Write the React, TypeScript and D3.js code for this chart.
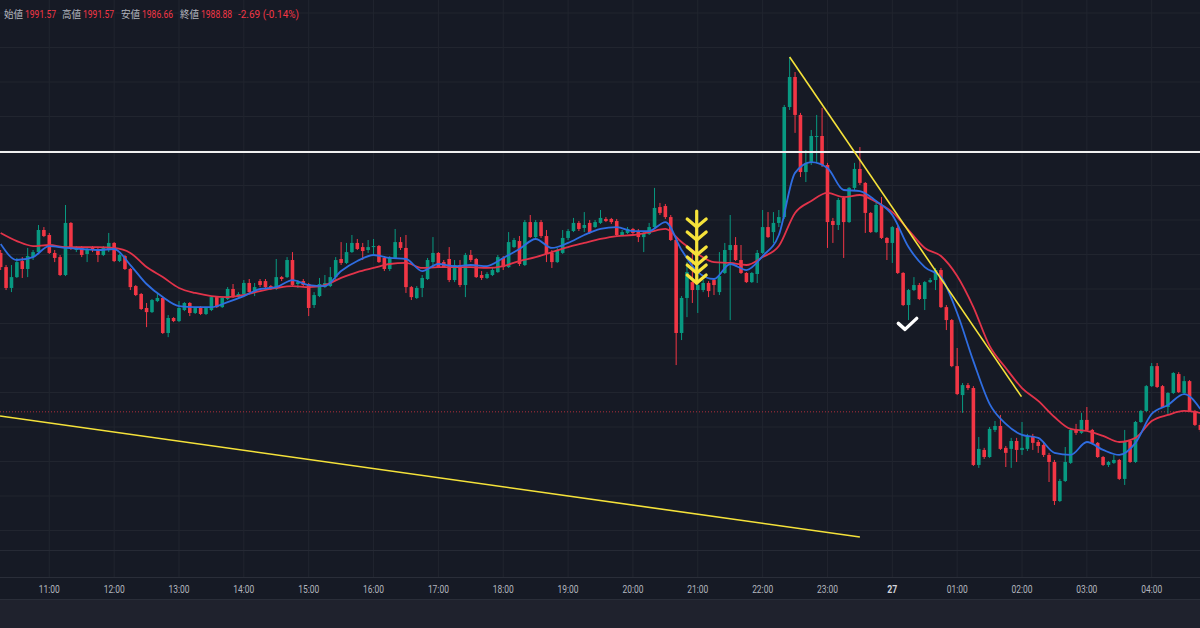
import React, { useEffect } from 'react';
import * as d3 from 'd3';

const WIDTH = 1200;
const HEIGHT = 628;
const PLOT_BOTTOM = 577;
const AXIS_BOTTOM = 600;

const startTime = new Date(2023, 9, 26, 10, 15);
const barMinutes = 5;

// [open, high, low, close] per 5-minute bar
const ohlc: number[][] = [
  [1998.09,1998.26,1997.10,1997.27],[1997.27,1997.39,1995.94,1996.06],[1996.06,1997.39,1995.82,1996.69],[1996.69,1997.80,1996.64,1997.56],
  [1997.62,1997.85,1996.64,1997.16],[1997.16,1998.38,1996.69,1997.91],[1997.85,1998.26,1997.68,1998.14],[1998.14,1999.71,1998.09,1999.42],
  [1999.42,1999.59,1999.01,1999.07],[1999.13,1999.25,1998.03,1998.09],[1998.09,1998.26,1997.56,1997.80],[1997.85,1997.97,1996.75,1996.81],
  [1996.81,2000.87,1996.75,1999.83],[1999.83,1999.88,1998.26,1998.38],[1998.26,1998.49,1998.14,1998.43],[1998.43,1998.49,1997.85,1997.97],
  [1998.03,1998.43,1997.56,1998.32],[1998.38,1998.49,1998.14,1998.26],[1998.32,1998.43,1997.56,1997.97],[1997.97,1998.49,1997.91,1998.43],
  [1998.26,1999.25,1998.14,1998.67],[1998.67,1998.72,1997.56,1997.62],[1997.62,1998.03,1997.56,1997.97],[1997.91,1997.97,1997.10,1997.16],
  [1997.16,1997.22,1995.94,1996.11],[1996.17,1996.23,1995.59,1995.65],[1995.71,1995.77,1994.78,1994.84],[1994.90,1995.19,1993.79,1994.66],
  [1994.66,1995.42,1994.61,1995.36],[1995.30,1995.77,1995.24,1995.48],[1995.48,1995.53,1993.39,1993.45],[1993.45,1994.49,1993.21,1994.32],
  [1994.32,1994.37,1994.08,1994.14],[1994.14,1995.30,1994.08,1994.90],[1994.78,1995.24,1994.72,1995.19],[1995.19,1995.24,1994.43,1994.61],
  [1994.61,1994.95,1994.55,1994.90],[1994.95,1995.01,1994.49,1994.55],[1994.55,1994.95,1994.49,1994.90],[1994.78,1995.59,1994.72,1995.53],
  [1995.53,1995.59,1994.90,1994.95],[1994.95,1995.53,1994.90,1995.48],[1995.42,1996.11,1995.36,1996.00],[1996.00,1996.29,1995.48,1995.59],
  [1995.53,1995.82,1995.48,1995.71],[1995.71,1996.52,1995.65,1996.35],[1996.35,1996.58,1995.77,1995.82],[1995.82,1996.35,1995.59,1996.11],
  [1996.46,1996.58,1996.11,1996.23],[1996.46,1996.58,1996.06,1996.11],[1996.17,1996.23,1995.94,1996.00],[1996.00,1997.74,1995.94,1996.69],
  [1996.69,1996.75,1996.46,1996.58],[1996.69,1997.85,1996.64,1997.68],[1997.68,1998.14,1996.17,1996.23],[1996.29,1996.52,1996.06,1996.40],
  [1996.46,1996.58,1996.11,1996.23],[1996.29,1996.35,1994.43,1994.90],[1995.07,1995.82,1994.90,1995.65],[1995.59,1996.64,1995.53,1996.29],
  [1996.11,1996.81,1996.06,1996.35],[1996.17,1997.27,1996.11,1996.69],[1996.69,1997.85,1996.52,1997.68],[1997.74,1998.72,1997.39,1997.51],
  [1997.51,1998.67,1997.45,1998.14],[1998.14,1999.13,1998.09,1998.67],[1998.67,1998.90,1998.26,1998.32],[1998.43,1998.67,1997.68,1998.20],
  [1998.26,1998.84,1998.09,1998.43],[1998.43,1998.90,1997.97,1998.49],[1998.49,1998.55,1997.51,1997.56],[1997.80,1997.91,1997.04,1997.16],
  [1997.16,1997.91,1997.04,1997.80],[1997.80,1999.48,1997.74,1998.72],[1998.72,1999.01,1998.26,1998.38],[1998.38,1999.13,1995.77,1996.11],
  [1996.11,1996.17,1995.36,1995.53],[1995.48,1996.17,1995.42,1996.06],[1996.06,1996.81,1995.53,1996.64],[1996.58,1997.80,1996.52,1997.68],
  [1997.56,1999.01,1997.27,1998.09],[1998.09,1998.14,1997.22,1997.27],[1997.56,1997.68,1997.22,1997.27],[1997.74,1998.43,1996.40,1996.52],
  [1996.52,1997.68,1996.40,1997.39],[1997.39,1997.68,1996.11,1996.23],[1996.23,1998.09,1995.53,1997.97],[1997.97,1998.26,1997.56,1997.68],
  [1997.74,1997.80,1996.64,1996.69],[1996.81,1997.04,1996.52,1996.64],[1996.64,1996.98,1996.58,1996.87],[1996.81,1997.22,1996.75,1997.10],
  [1996.98,1997.97,1996.93,1997.85],[1997.80,1997.91,1997.10,1997.27],[1997.27,1999.30,1997.22,1998.72],[1998.43,1998.96,1998.38,1998.84],
  [1998.78,1999.07,1997.33,1997.45],[1997.39,2000.00,1997.33,1999.88],[1999.88,2000.29,1998.96,1999.01],[1999.01,2000.00,1998.96,1999.88],
  [1999.88,2000.00,1998.96,1999.07],[1999.07,1999.42,1997.56,1998.03],[1998.09,1998.26,1997.22,1997.56],[1997.56,1998.38,1997.51,1998.26],
  [1998.09,1999.42,1998.03,1998.96],[1998.96,1999.48,1998.84,1999.36],[1999.36,2000.12,1999.30,1999.83],[1999.83,1999.94,1999.36,1999.48],
  [1999.54,2000.46,1999.30,1999.71],[1999.83,2000.00,1999.19,1999.25],[1999.59,2000.00,1999.54,1999.88],[1999.83,2000.58,1999.77,2000.12],
  [2000.06,2000.17,1999.88,1999.94],[2000.06,2000.12,1999.77,1999.88],[1999.94,2000.06,1999.01,1999.13],[1999.13,1999.42,1999.07,1999.30],
  [1999.25,1999.59,1999.19,1999.48],[1999.48,1999.54,1999.13,1999.25],[1999.36,1999.48,1998.72,1999.01],[1999.01,1999.30,1998.14,1999.25],
  [1999.19,1999.83,1999.13,1999.59],[1999.59,2001.86,1999.54,2000.70],[2000.75,2000.99,2000.29,2000.41],[2000.81,2000.93,2000.06,2000.17],
  [2000.17,2000.29,1998.78,1998.84],[1998.84,1998.96,1991.59,1993.45],[1993.45,1995.59,1993.04,1995.48],[1995.48,1997.56,1994.37,1996.98],
  [1996.40,1998.26,1995.19,1995.94],[1995.94,1997.39,1994.61,1996.23],[1995.94,1996.52,1995.82,1996.35],[1996.35,1996.46,1995.53,1995.88],
  [1996.52,1996.64,1995.65,1996.23],[1995.82,1998.14,1995.65,1996.75],[1996.93,1998.67,1996.87,1998.26],[1998.26,2000.29,1994.20,1998.55],
  [1998.55,1999.01,1997.62,1997.68],[1997.68,1998.55,1996.87,1996.93],[1996.93,1996.98,1996.35,1996.40],[1996.40,1996.98,1996.35,1996.93],
  [1996.87,1998.26,1996.35,1998.09],[1998.09,2000.58,1998.03,1999.59],[1999.59,2000.46,1998.96,1999.01],[1999.30,2000.46,1998.67,1999.83],
  [1999.83,2000.58,1999.59,2000.17],[2000.17,2006.67,2000.06,2006.55],[2006.55,2009.45,2006.38,2008.29],[2008.29,2008.58,2005.05,2006.09],
  [2006.09,2006.21,2002.49,2002.78],[2002.78,2004.06,2002.20,2003.31],[2003.31,2005.22,2003.19,2004.87],[2004.81,2006.09,2003.31,2004.87],
  [2004.87,2006.50,2003.07,2003.19],[2003.19,2003.31,1998.38,1999.88],[1999.94,2000.12,1998.67,1999.71],[1999.71,2001.28,1999.42,2001.16],
  [2001.28,2001.39,1997.80,1999.88],[1999.88,2001.91,1999.83,2001.86],[2001.86,2003.31,2001.74,2002.96],[2002.96,2004.23,2002.03,2002.15],
  [2002.15,2002.20,1999.25,2000.41],[2000.41,2000.46,1999.25,1999.30],[1999.30,2000.99,1999.25,2000.87],[2000.87,2001.33,1998.90,1998.96],
  [1998.96,1999.01,1997.68,1998.67],[1998.67,1999.65,1997.51,1999.59],[1999.54,1999.65,1996.87,1996.93],[1996.93,1996.98,1995.01,1995.07],
  [1995.07,1996.00,1994.20,1995.94],[1995.94,1996.69,1995.88,1996.23],[1996.23,1996.35,1995.36,1995.42],[1995.42,1996.46,1994.78,1996.40],
  [1996.40,1996.64,1996.35,1996.52],[1996.52,1997.22,1995.94,1997.10],[1997.10,1997.22,1994.90,1994.95],[1994.95,1995.07,1993.62,1994.20],
  [1994.20,1994.26,1991.47,1991.53],[1991.53,1992.58,1989.85,1989.91],[1989.85,1990.55,1988.82,1990.43],[1990.43,1990.55,1990.14,1990.26],
  [1990.26,1990.37,1985.74,1985.80],[1985.80,1987.42,1985.63,1986.73],[1986.67,1986.79,1986.15,1986.26],[1986.26,1988.00,1986.21,1987.89],
  [1987.83,1988.35,1987.71,1988.06],[1988.06,1988.70,1986.67,1986.73],[1986.79,1986.90,1985.68,1986.50],[1986.73,1987.37,1985.63,1987.19],
  [1987.19,1987.37,1985.97,1986.67],[1986.67,1988.29,1986.38,1986.79],[1986.73,1987.60,1986.61,1987.48],[1987.48,1987.60,1986.67,1987.08],
  [1987.13,1987.25,1986.50,1986.90],[1986.96,1987.08,1986.26,1986.38],[1986.38,1986.50,1984.81,1985.97],[1985.97,1986.09,1983.48,1983.71],
  [1983.71,1984.99,1983.65,1984.87],[1984.87,1986.84,1984.81,1985.97],[1985.92,1987.95,1985.86,1987.83],[1987.83,1988.18,1987.54,1987.66],
  [1987.66,1988.82,1987.60,1988.41],[1988.41,1989.16,1987.77,1987.83],[1987.83,1987.89,1987.02,1987.08],[1987.08,1987.13,1986.21,1986.26],
  [1986.26,1986.32,1985.74,1985.80],[1985.80,1986.03,1985.68,1985.97],[1985.92,1986.38,1985.86,1986.09],[1986.09,1986.15,1984.93,1984.99],
  [1984.99,1987.83,1984.64,1987.19],[1987.19,1987.25,1985.92,1985.97],[1985.97,1988.35,1985.92,1988.29],[1988.29,1988.99,1988.24,1988.93],
  [1988.93,1990.43,1988.87,1990.37],[1990.37,1991.71,1990.32,1991.53],[1991.53,1991.71,1990.26,1990.32],[1990.37,1990.43,1989.11,1989.16],
  [1989.16,1990.02,1988.76,1989.97],[1989.97,1991.18,1989.91,1991.13],[1991.07,1991.18,1989.97,1990.02],[1989.97,1990.95,1989.91,1990.66],
  [1990.66,1990.72,1988.87,1988.93],[1988.93,1988.99,1988.06,1988.12],[1988.12,1988.24,1987.71,1987.83],
];

// moving averages, one value every 3 bars
const maStep = 3;
const maFast = [
  1998.61,1997.68,1997.85,1998.49,1998.38,1998.32,1998.26,1998.32,1997.39,1996.29,1995.53,1995.01,1994.95,1994.95,1995.24,
  1995.59,1996.00,1996.11,1996.52,1996.23,1996.17,1997.04,1997.62,1997.97,1997.80,1997.74,1997.04,1997.45,1997.33,1997.39,
  1997.33,1997.80,1998.32,1998.90,1998.38,1998.67,1999.13,1999.48,1999.59,1999.36,1999.36,1999.88,1998.26,1996.98,1996.58,
  1997.45,1997.10,1997.91,1999.13,2002.73,2003.36,2003.02,2001.74,2001.68,2001.10,2000.29,1998.43,1997.27,1996.69,1994.61,
  1991.82,1989.34,1988.18,1987.54,1987.37,1986.50,1986.38,1987.13,1986.67,1986.38,1987.08,1988.76,1989.28,1989.91,1989.04,
];
const maSlow = [
  1999.25,1998.78,1998.49,1998.55,1998.43,1998.43,1998.43,1998.38,1998.09,1997.27,1996.69,1996.06,1995.77,1995.59,1995.53,
  1995.65,1995.88,1996.06,1996.17,1996.11,1996.23,1996.64,1996.98,1997.22,1997.45,1997.51,1997.22,1997.27,1997.27,1997.27,
  1997.22,1997.33,1997.62,1997.85,1998.14,1998.43,1998.67,1998.90,1999.07,1999.13,1999.30,1999.48,1998.72,1998.03,1997.56,
  1997.51,1997.39,1997.85,1998.49,2000.41,2001.10,2001.57,2001.33,2001.45,2001.04,2000.46,1999.42,1998.38,1997.91,1996.75,
  1994.95,1992.70,1991.42,1990.26,1989.51,1988.58,1987.89,1987.77,1987.48,1987.13,1987.37,1988.35,1988.70,1988.93,1988.82,
];

const legendNames = ['始値', '高値', '安値', '終値'];
const legendValues = ['1991.57', '1991.57', '1986.66', '1988.88'];
const legendChange = '-2.69 (-0.14%)';

const lastPrice = 1988.88;
const horizontalLevel = 2003.94;
const longTrend: [number, number][] = [[-0.12, 1988.64], [159, 1981.62]];
const downTrend: [number, number][] = [[146, 2009.45], [188.9, 1989.76]];
const arrowMark = { index: 128.8, price: 2000.52 };
const chevronOffsets = [16, 29, 44, 54, 62, 72];
const checkMark = { index: 167.35, price: 1993.66 };
const priceGrid = d3.range(1982, 2013, 2);

const C_BG = '#161a25';
const C_GRID = '#21252f';
const C_UP = '#089981';
const C_DOWN = '#f23645';
const C_FAST = '#2f6de1';
const C_SLOW = '#e2334a';
const C_YELLOW = '#f5e23a';
const C_TEXT = '#b2b5be';

export default function App() {
  useEffect(() => {
    document.body.style.margin = '0';
  }, []);

  const x = d3.scaleLinear().domain([0, ohlc.length - 1]).range([0.66, 1200.35]);
  const y = d3.scaleLinear().domain([1990, 2000]).range([392.5, 220]);

  const times = ohlc.map((_, i) => d3.timeMinute.offset(startTime, i * barMinutes));
  const hourTicks = times
    .map((t, i) => ({ t, i }))
    .filter((d) => d.t.getMinutes() === 0);
  const fmtHour = d3.timeFormat('%H:%M');
  const fmtDay = d3.timeFormat('%-d');

  const maLine = d3
    .line<number>()
    .x((_, k) => x(k * maStep))
    .y((v) => y(v))
    .curve(d3.curveMonotoneX);

  const bodyW = 3.6;

  const ax = x(arrowMark.index);
  const ay = y(arrowMark.price);
  const cx = x(checkMark.index);
  const cy = y(checkMark.price);

  const legendNameX = [4, 62, 121, 180];
  const legendValueX = [25, 83, 142, 201];

  return (
    <svg
      width={WIDTH}
      height={HEIGHT}
      style={{ position: 'absolute', left: 0, top: 0, display: 'block' }}
      fontFamily="Roboto, 'Noto Sans', sans-serif"
    >
      <defs>
        <clipPath id="plot">
          <rect x={0} y={0} width={WIDTH} height={PLOT_BOTTOM} />
        </clipPath>
      </defs>
      <rect x={0} y={0} width={WIDTH} height={HEIGHT} fill={C_BG} />
      <rect x={0} y={AXIS_BOTTOM} width={WIDTH} height={HEIGHT - AXIS_BOTTOM} fill="#1f222d" />

      <g clipPath="url(#plot)">
        {priceGrid.map((p) => (
          <line key={'h' + p} x1={0} x2={WIDTH} y1={y(p)} y2={y(p)} stroke={C_GRID} strokeWidth={1} />
        ))}
        {hourTicks.map((d) => (
          <line key={'v' + d.i} x1={x(d.i)} x2={x(d.i)} y1={0} y2={PLOT_BOTTOM} stroke={C_GRID} strokeWidth={1} />
        ))}
        <line x1={0} x2={WIDTH} y1={550.5} y2={550.5} stroke="#262a35" strokeWidth={1} />

        <line
          x1={x(longTrend[0][0])}
          y1={y(longTrend[0][1])}
          x2={x(longTrend[1][0])}
          y2={y(longTrend[1][1])}
          stroke={C_YELLOW}
          strokeWidth={1.6}
        />

        <line x1={0} x2={WIDTH} y1={y(lastPrice)} y2={y(lastPrice)} stroke={C_DOWN} strokeOpacity={0.7} strokeWidth={1} strokeDasharray="1 2" />

        {ohlc.map((d, i) => {
          const [o, h, l, c] = d;
          const up = c >= o;
          const col = up ? C_UP : C_DOWN;
          const cxp = x(i);
          const top = y(Math.max(o, c));
          const bh = Math.max(1, Math.abs(y(o) - y(c)));
          return (
            <g key={'c' + i}>
              <line x1={cxp} x2={cxp} y1={y(h)} y2={y(l)} stroke={col} strokeWidth={1} />
              <rect x={cxp - bodyW / 2} y={top} width={bodyW} height={bh} fill={col} />
            </g>
          );
        })}

        <path d={maLine(maSlow) || ''} fill="none" stroke={C_SLOW} strokeWidth={1.8} />
        <path d={maLine(maFast) || ''} fill="none" stroke={C_FAST} strokeWidth={1.8} />

        <line x1={0} x2={WIDTH} y1={y(horizontalLevel)} y2={y(horizontalLevel)} stroke="#f0f0f0" strokeWidth={2} />

        <line
          x1={x(downTrend[0][0])}
          y1={y(downTrend[0][1])}
          x2={x(downTrend[1][0])}
          y2={y(downTrend[1][1])}
          stroke={C_YELLOW}
          strokeWidth={1.6}
        />

        <g stroke={C_YELLOW} strokeWidth={3.2} strokeLinecap="round" strokeLinejoin="round" fill="none">
          <line x1={ax} x2={ax} y1={ay} y2={ay + chevronOffsets[chevronOffsets.length - 1]} />
          {chevronOffsets.map((t) => (
            <path key={'chev' + t} d={`M${ax - 9.5},${ay + t - 8} L${ax},${ay + t} L${ax + 9.5},${ay + t - 8}`} />
          ))}
        </g>

        <path
          d={`M${cx - 6.7},${cy - 6} L${cx},${cy} L${cx + 11.7},${cy - 11}`}
          stroke="#ffffff"
          strokeWidth={3.4}
          strokeLinecap="round"
          strokeLinejoin="round"
          fill="none"
        />
      </g>

      <line x1={0} x2={WIDTH} y1={PLOT_BOTTOM + 0.5} y2={PLOT_BOTTOM + 0.5} stroke="#2a2e39" />
      <line x1={0} x2={WIDTH} y1={AXIS_BOTTOM - 0.5} y2={AXIS_BOTTOM - 0.5} stroke="#2a2e39" />

      {hourTicks.map((d) => {
        const midnight = d.t.getHours() === 0;
        const label = midnight ? fmtDay(d.t) : fmtHour(d.t);
        return (
          <text
            key={'t' + d.i}
            x={x(d.i)}
            y={592.5}
            textAnchor="middle"
            fontSize={11}
            fill={midnight ? '#d1d4dc' : C_TEXT}
            fontWeight={midnight ? 700 : 400}
            textLength={midnight ? 10 : 21}
            lengthAdjust="spacingAndGlyphs"
          >
            {label}
          </text>
        );
      })}

      <g fontSize={10}>
        {legendNames.map((n, k) => (
          <text key={'ln' + k} x={legendNameX[k]} y={17.5} fill={C_TEXT} fontFamily="'Noto Sans CJK JP', sans-serif" textLength={19} lengthAdjust="spacingAndGlyphs">
            {n}
          </text>
        ))}
        {legendValues.map((v, k) => (
          <text key={'lv' + k} x={legendValueX[k]} y={17.5} fill={C_DOWN} textLength={31} lengthAdjust="spacingAndGlyphs">
            {v}
          </text>
        ))}
        <text x={238} y={17.5} fill={C_DOWN} textLength={61} lengthAdjust="spacingAndGlyphs">
          {legendChange}
        </text>
      </g>
    </svg>
  );
}
